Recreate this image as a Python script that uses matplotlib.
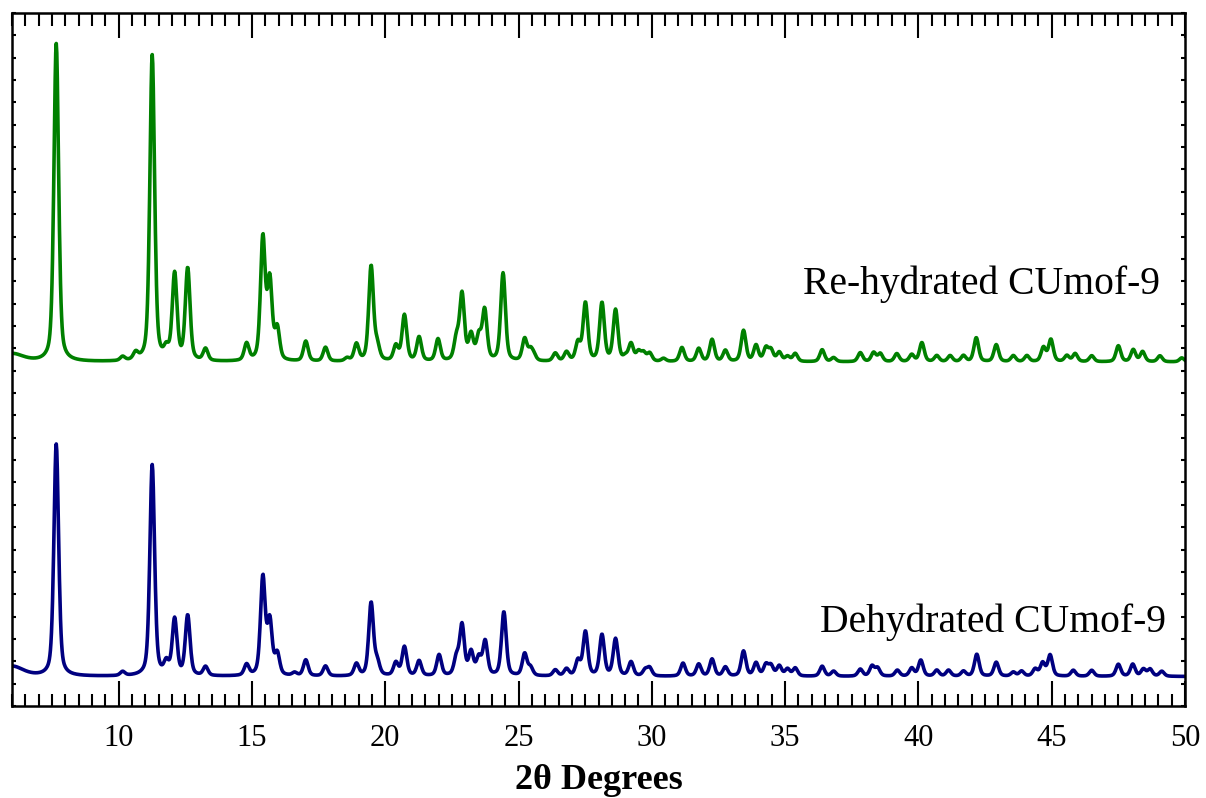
import numpy as np
import matplotlib
matplotlib.use("Agg")
import matplotlib.pyplot as plt
from matplotlib.ticker import MultipleLocator

plt.rcParams['font.family'] = ['Liberation Serif', 'DejaVu Serif']

# peak tables (2theta, height above own baseline)
rehyd_pos = [6.0, 7.66, 10.15, 10.64, 11.26, 11.79, 12.10, 12.59, 13.26, 14.80,
             15.41, 15.67, 15.95, 17.02, 17.76, 18.57, 18.92, 19.47, 19.70, 20.40,
             20.72, 21.27, 21.98, 22.67, 22.88, 23.22, 23.51, 23.73, 24.42, 25.23,
             25.45, 25.57, 26.38, 26.80, 27.23, 27.51, 28.13, 28.64, 29.01, 29.22,
             29.50, 29.69, 29.92, 30.44, 31.13, 31.76, 32.26, 32.76, 33.44, 33.91,
             34.28, 34.47, 34.78, 35.09, 35.38, 36.39, 36.82, 37.82, 38.32, 38.57,
             39.19, 39.75, 40.13, 40.69, 41.19, 41.69, 42.17, 42.92, 43.56, 44.07,
             44.69, 44.97, 45.57, 45.88, 46.50, 47.50, 48.06, 48.41, 49.06, 49.88]
rehyd_int = [8, 318, 4, 7, 306, 10, 86, 92, 12, 17,
             122, 78, 31, 20, 14, 3, 17, 95, 14, 15,
             46, 24, 22, 21, 66, 25, 23, 50, 88, 22,
             10, 5, 8, 9, 18, 58, 58, 51, 4, 17,
             9, 8, 8, 3, 14, 13, 22, 11, 31, 16,
             13, 11, 9, 5, 8, 12, 4, 9, 9, 8,
             8, 7, 19, 6, 6, 6, 24, 17, 6, 6,
             14, 22, 6, 8, 6, 16, 12, 10, 6, 4]

dehyd_pos = [6.0, 7.66, 10.15, 11.26, 11.79, 12.10, 12.59, 13.26, 14.80, 15.41,
             15.67, 15.95, 16.60, 17.02, 17.76, 18.92, 19.47, 19.70, 20.40, 20.72,
             21.27, 22.02, 22.67, 22.88, 23.22, 23.51, 23.75, 24.45, 25.23, 25.45,
             26.38, 26.80, 27.23, 27.51, 28.13, 28.64, 29.22, 29.75, 29.92, 31.17,
             31.76, 32.26, 32.76, 33.44, 33.91, 34.28, 34.47, 34.78, 35.09, 35.38,
             36.39, 36.82, 37.82, 38.26, 38.47, 39.21, 39.75, 40.09, 40.69, 41.13,
             41.69, 42.19, 42.92, 43.56, 43.87, 44.38, 44.66, 44.94, 45.81, 46.50,
             47.50, 48.04, 48.44, 48.69, 49.13]
dehyd_int = [10, 232, 4, 211, 12, 56, 60, 9, 11, 98,
             53, 21, 3, 16, 10, 12, 73, 13, 13, 29,
             15, 21, 17, 50, 23, 17, 34, 64, 22, 8,
             6, 7, 15, 44, 41, 37, 14, 6, 8, 13,
             12, 17, 9, 25, 13, 11, 10, 10, 7, 8,
             10, 5, 7, 10, 8, 6, 8, 16, 6, 6,
             5, 22, 14, 4, 5, 7, 13, 21, 6, 6,
             12, 12, 7, 7, 5]

rehyd_base = 344
dehyd_base = 29.5


def pattern(pos, height, base, tth):
    y = np.full_like(tth, base)
    for p, h in zip(pos, height):
        w = 1.0 if p < 7 else 0.21
        g = np.exp(-4 * np.log(2) * ((tth - p) / w) ** 2)
        l = 1 / (1 + 4 * ((tth - p) / w) ** 2)
        y += h * (0.55 * g + 0.45 * l)
    return y


tth = np.arange(6.0, 50.01, 0.02)
green = pattern(rehyd_pos, rehyd_int, rehyd_base, tth)
blue = pattern(dehyd_pos, dehyd_int, dehyd_base, tth)

fig = plt.figure(figsize=(12.06, 7.98), dpi=100)
ax = fig.add_axes([12 / 1206, 1 - 706 / 798, 1173 / 1206, 693 / 798])
ax.plot(tth, green, color='#008000', lw=2.6)
ax.plot(tth, blue, color='#000080', lw=2.6)

ax.set_xlim(6, 50)
ax.set_ylim(0, 693)
ax.xaxis.set_major_locator(MultipleLocator(5))
ax.xaxis.set_minor_locator(MultipleLocator(0.5))
ax.yaxis.set_major_locator(MultipleLocator(693 / 31))
ax.tick_params(axis='x', which='major', direction='in', length=18, width=1.5,
               top=True, labelsize=22, pad=13)
ax.tick_params(axis='x', which='minor', direction='in', length=9, width=1.5, top=True)
ax.tick_params(axis='y', which='major', direction='in', length=3, width=1.5,
               right=True, labelleft=False)
for s in ax.spines.values():
    s.set_linewidth(1.8)

ax.set_xlabel(u'2\u03b8 Degrees', fontsize=26, fontweight='bold', labelpad=8)

ax.text(0.9787, 0.5945, 'Re-hydrated CUmof-9', transform=ax.transAxes,
        ha='right', va='baseline', fontsize=28.5)
ax.text(0.9838, 0.1068, 'Dehydrated CUmof-9', transform=ax.transAxes,
        ha='right', va='baseline', fontsize=28.5)

fig.savefig('out.png', dpi=100)
